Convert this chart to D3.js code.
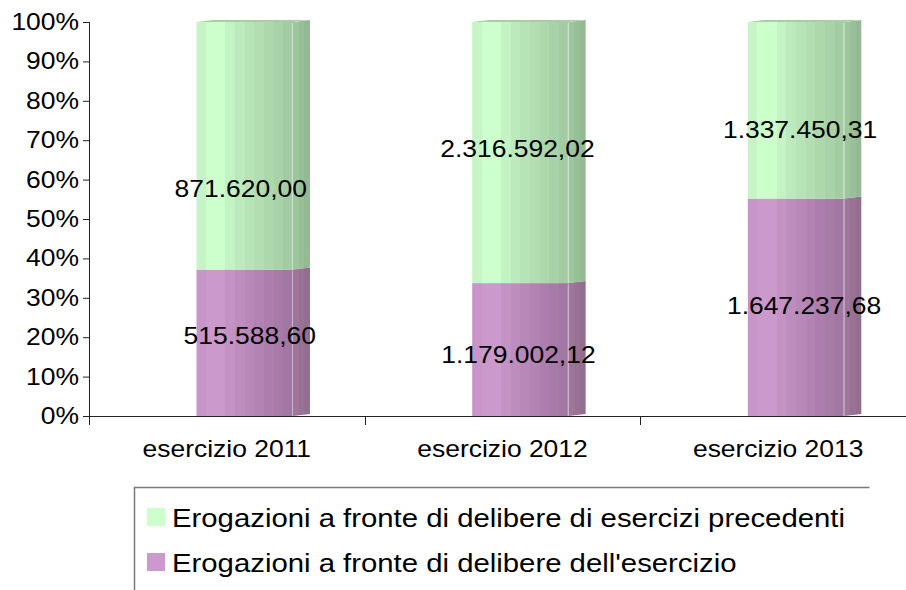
<!DOCTYPE html>
<html><head><meta charset="utf-8">
<script src="https://cdn.jsdelivr.net/npm/d3@7/dist/d3.min.js"></script>
<style>body{margin:0;background:#fff}svg{display:block}text{font-family:"Liberation Sans",Arial,sans-serif}</style>
</head><body>
<svg id="c" width="906" height="590"></svg>
<script>
// ---- data ----
const categories = ["esercizio 2011", "esercizio 2012", "esercizio 2013"];
const seriesNames = ["Erogazioni a fronte di delibere dell'esercizio", "Erogazioni a fronte di delibere di esercizi precedenti"];
const valuesCurrent = [515588.60, 1179002.12, 1647237.68];
const valuesPrevious = [871620.00, 2316592.02, 1337450.31];
const tickLabels = ["0%","10%","20%","30%","40%","50%","60%","70%","80%","90%","100%"];
// label nudges (px) reproducing the original label placement
const labelNudgeCurrent = [[5,-7],[-2,5],[8,-1]];
const labelNudgePrevious = [[-4,43],[-3,-4],[4,20]];

const svg = d3.select("#c");
const fontSize = 23, legendFont = 25.5, sx = 1.15;
const x = d3.scaleBand().domain(categories).range([89, 916]).padding(0);
const y = d3.scaleLinear().domain([0, 1]).range([416, 22]);
const bw = x.bandwidth();
const frontOff = 0.39 * bw, frontW = 0.35 * bw, dx = 17, dy = -2;

const fmt = v => {
  const s = v.toFixed(2).split(".");
  return s[0].replace(/\B(?=(\d{3})+(?!\d))/g, ".") + "," + s[1];
};

// stretched text helper
function stext(g, tx, ty, str, size, anchor, dyv) {
  return g.append("text")
    .attr("transform", `translate(${tx},${ty}) scale(${sx},1)`)
    .attr("text-anchor", anchor || "start")
    .attr("dy", dyv || null)
    .attr("font-size", size).attr("fill", "#000").text(str);
}

// gradients (banded)
const defs = svg.append("defs");
function banded(id, colors) {
  const g = defs.append("linearGradient").attr("id", id).attr("x1", 0).attr("x2", 1).attr("y1", 0).attr("y2", 0);
  const n = colors.length;
  colors.forEach((c, i) => {
    g.append("stop").attr("offset", i / n).attr("stop-color", c);
    g.append("stop").attr("offset", (i + 1) / n).attr("stop-color", c);
  });
}
banded("gGreen", ["#c6f4c6","#ccffcc","#ccffcc","#c3f2c3","#bdeabd","#b7e4b7","#b2deb2","#acd8ac","#a8d2a8","#a3cca3"]);
banded("gPurple", ["#c895c8","#cc99cc","#cc99cc","#c493c4","#bd8dbd","#b888b8","#b383b3","#ad7ead","#a87aa8","#a377a3"]);
banded("gGreenSide", ["#9dc69d","#98c098","#93ba93"]);
banded("gPurpleSide", ["#9d7699","#987294","#936e8f"]);

const stack = categories.map((c, i) => {
  const tot = valuesCurrent[i] + valuesPrevious[i];
  return { cat: c, i, p0: valuesCurrent[i] / tot, vC: valuesCurrent[i], vP: valuesPrevious[i] };
});

const segs = [];
stack.forEach(d => {
  segs.push({ cat: d.cat, i: d.i, lo: 0, hi: d.p0, v: d.vC, front: "url(#gPurple)", side: "url(#gPurpleSide)", nudge: labelNudgeCurrent[d.i], top: false });
  segs.push({ cat: d.cat, i: d.i, lo: d.p0, hi: 1, v: d.vP, front: "url(#gGreen)", side: "url(#gGreenSide)", nudge: labelNudgePrevious[d.i], top: true });
});

const bars = svg.append("g");
segs.forEach(s => {
  const x0 = x(s.cat) + frontOff, x1 = x0 + frontW;
  const yT = y(s.hi), yB = y(s.lo);
  bars.append("path").attr("d", `M${x1},${yT} L${x1 + dx},${yT + dy} L${x1 + dx},${yB + dy} L${x1},${yB} Z`).attr("fill", s.side);
  bars.append("rect").attr("x", x0).attr("y", yT).attr("width", frontW).attr("height", yB - yT).attr("fill", s.front);
  bars.append("line").attr("x1", x1 - 0.5).attr("x2", x1 - 0.5).attr("y1", yT + 1).attr("y2", yB).attr("stroke", "rgba(255,255,255,0.45)").attr("stroke-width", 1);
  if (s.top) {
    bars.append("path").attr("d", `M${x0},${yT} L${x0 + dx},${yT + dy} L${x1 + dx},${yT + dy} L${x1},${yT} Z`).attr("fill", "#a6cfa6");
  }
});

// axes
const axisColor = "#222";
const gy = svg.append("g").attr("transform", "translate(89,0)")
  .call(d3.axisLeft(y).tickValues(d3.range(0, 11).map(k => k / 10)).tickFormat("").tickSize(6).tickSizeOuter(0));
gy.select(".domain").remove();
gy.selectAll(".tick line").attr("stroke", axisColor);
const yl = svg.append("g");
y.ticks(10).forEach((t, k) => stext(yl, 79, y(t), tickLabels[k], fontSize, "end", "0.35em"));
svg.append("line").attr("x1", 89.5).attr("x2", 89.5).attr("y1", y(1)).attr("y2", y(0) + 9).attr("stroke", axisColor);
svg.append("line").attr("x1", 83).attr("x2", 906).attr("y1", y(0) + 0.5).attr("y2", y(0) + 0.5).attr("stroke", axisColor);
categories.slice(1).forEach(c => {
  svg.append("line").attr("x1", Math.round(x(c)) + 0.5).attr("x2", Math.round(x(c)) + 0.5).attr("y1", y(0)).attr("y2", y(0) + 9).attr("stroke", axisColor);
});
// category labels
const cl = svg.append("g");
categories.forEach(c => stext(cl, x(c) + bw / 2, y(0) + 41, c, fontSize, "middle"));

// data labels
const dl = svg.append("g");
segs.forEach(s => stext(dl, x(s.cat) + frontOff + frontW / 2 + s.nudge[0], (y(s.hi) + y(s.lo)) / 2 + s.nudge[1], fmt(s.v), fontSize, "middle", "0.35em"));

// legend
const lg = svg.append("g");
lg.append("path").attr("d", "M134.5,600 L134.5,487.5 L869.5,487.5").attr("fill", "none").attr("stroke", "#7a7a7a").attr("stroke-width", 1.5);
const legendItems = [
  { name: seriesNames[1], color: "#ccffcc" },
  { name: seriesNames[0], color: "#cc99cc" }
];
legendItems.forEach((it, k) => {
  const yy = 508 + k * 45;
  lg.append("rect").attr("x", 147).attr("y", yy).attr("width", 18).attr("height", 18).attr("fill", it.color);
  stext(lg, 172, yy + 19, it.name, legendFont, "start");
});
</script>
</body></html>
